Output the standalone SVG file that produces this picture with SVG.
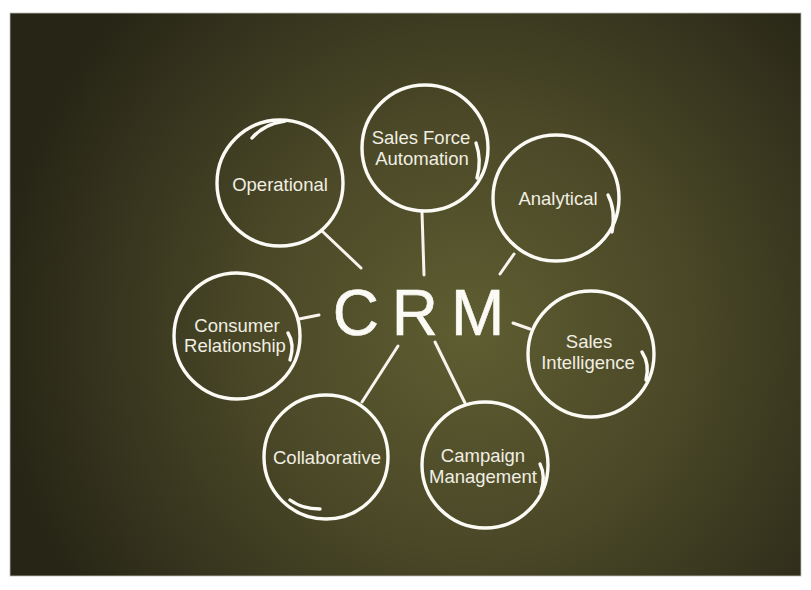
<svg xmlns="http://www.w3.org/2000/svg" width="811" height="590" viewBox="0 0 811 590">
<defs>
<radialGradient id="bg" cx="470" cy="330" r="480" gradientUnits="userSpaceOnUse">
<stop offset="0" stop-color="#5f5d31"/>
<stop offset="0.45" stop-color="#4a4827"/>
<stop offset="1" stop-color="#262516"/>
</radialGradient>
<style>
.ring{fill:none;stroke:#fbfaf4;stroke-width:3.4;stroke-linecap:round}
.conn line{stroke:#f6f4ec;stroke-width:3;stroke-linecap:round}
.lbl{font-family:"Liberation Sans","DejaVu Sans",sans-serif;font-size:18.5px;fill:#f1eee2;text-anchor:middle}
.crm{font-family:"Liberation Sans","DejaVu Sans",sans-serif;font-size:64px;fill:#fbfaf4;stroke:#fbfaf4;stroke-width:0.6;text-anchor:middle;letter-spacing:13px}
</style>
</defs>
<rect width="811" height="590" fill="#ffffff"/>
<rect x="10" y="13" width="791" height="563" fill="url(#bg)" stroke="#bdbdb5" stroke-width="0.8"/>

<g id="connectors" class="conn">
<line x1="322" y1="231" x2="361" y2="268"/>
<line x1="422" y1="212" x2="424" y2="275"/>
<line x1="514" y1="254" x2="500" y2="274"/>
<line x1="299" y1="319" x2="319" y2="315"/>
<line x1="513" y1="323" x2="530" y2="329"/>
<line x1="398" y1="346" x2="362" y2="402"/>
<line x1="435" y1="342" x2="465" y2="403"/>
</g>

<g id="crm"><text class="crm" x="425" y="335">CRM</text></g>

<g id="operational">
<circle class="ring" cx="280" cy="183" r="63"/>
<path class="ring" d="M252,138 Q264,124 285,121"/>
<text class="lbl" x="280" y="191">Operational</text>
</g>

<g id="sales-force-automation">
<circle class="ring" cx="425" cy="148" r="63"/>
<path class="ring" d="M476,143 Q482,160 477,178"/>
<text class="lbl" x="421" y="144">Sales Force</text>
<text class="lbl" x="422" y="165">Automation</text>
</g>

<g id="analytical">
<circle class="ring" cx="556" cy="198" r="63"/>
<path class="ring" d="M608,195 Q616,210 612,232"/>
<text class="lbl" x="558" y="205">Analytical</text>
</g>

<g id="consumer-relationship">
<circle class="ring" cx="237" cy="336" r="63"/>
<path class="ring" d="M288,333 Q295,344 290,360"/>
<text class="lbl" x="237" y="332">Consumer</text>
<text class="lbl" x="235" y="352">Relationship</text>
</g>

<g id="sales-intelligence">
<circle class="ring" cx="591" cy="354" r="63"/>
<path class="ring" d="M642,352 Q650,364 646,380"/>
<text class="lbl" x="589" y="348">Sales</text>
<text class="lbl" x="588" y="369">Intelligence</text>
</g>

<g id="collaborative">
<circle class="ring" cx="326" cy="457" r="62"/>
<path class="ring" d="M320,509 Q302,509 290,500"/>
<text class="lbl" x="327" y="464">Collaborative</text>
</g>

<g id="campaign-management">
<circle class="ring" cx="485" cy="465" r="63"/>
<path class="ring" d="M540,464 Q546,476 541,492"/>
<text class="lbl" x="483" y="462">Campaign</text>
<text class="lbl" x="483" y="483">Management</text>
</g>
</svg>
